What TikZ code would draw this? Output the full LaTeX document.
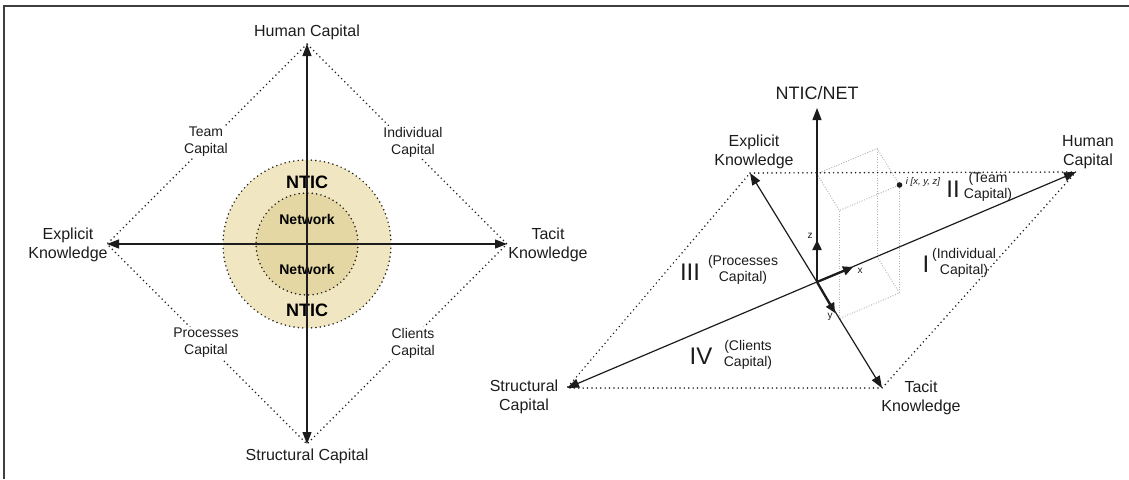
\documentclass[tikz,border=0pt]{standalone}
\usepackage{fontspec}
\setmainfont{Liberation Sans}
\usetikzlibrary{arrows.meta,positioning}

\definecolor{ink}{HTML}{1C1C1C}
\definecolor{nticfill}{HTML}{F0E7C2}
\definecolor{netfill}{HTML}{E4D7A4}

\tikzset{
  axis/.style={draw=ink, line width=1.2pt},
  thickax/.style={draw=ink, line width=2.3pt, >={Triangle[length=10pt,width=9pt]}},
  dotline/.style={draw=ink, line width=1.7pt, dash pattern=on 0pt off 4.4pt, line cap=round},
  boxline/.style={draw=gray!60, line width=0.9pt, dash pattern=on 1pt off 1.6pt},
  lab/.style={font=\fontsize{16}{19}\selectfont, text=ink, align=center, inner sep=0pt},
  caplab/.style={font=\fontsize{14}{17}\selectfont, text=ink, align=center, inner sep=1pt, fill=white},
  ntictxt/.style={font=\fontsize{18}{20}\selectfont\bfseries, text=black, inner sep=0pt},
  nettxt/.style={font=\fontsize{14}{16}\selectfont\bfseries, text=black, inner sep=0pt},
  roman/.style={font=\fontsize{24}{26}\selectfont, text=ink, inner sep=0pt},
  paren/.style={font=\fontsize{14}{16}\selectfont, text=ink, align=center, inner sep=0pt},
  small/.style={font=\fontsize{10}{11}\selectfont, text=ink, inner sep=0pt}
}

\begin{document}
\begin{tikzpicture}[x=1pt, y=-1pt, >={Triangle[length=12pt,width=9pt]}]
\useasboundingbox (0,0) rectangle (1129,479);
\draw[line width=1.4pt, ink!85] (4,479) -- (4,6) -- (1129,6);

% left: the square of capitals
\coordinate (c) at (307,244);
\coordinate (hc) at (307,44);
\coordinate (sc) at (307,444);
\coordinate (ek) at (107,244);
\coordinate (tk) at (507,244);

\node[circle, minimum size=168pt, fill=nticfill, dotline] (nticring) at (c) {};
\node[circle, minimum size=102pt, fill=netfill, dotline] (netring) at (c) {};
\node[ntictxt] (nticup) at (307,182) {NTIC};
\node[ntictxt] (nticdown) at (307,310) {NTIC};
\node[nettxt] (netup) at (307,219) {Network};
\node[nettxt] (netdown) at (307,269) {Network};

\draw[dotline] (hc) -- (ek) -- (sc) -- (tk) -- cycle;
\draw[axis, <->] (ek) -- (tk);
\draw[axis, <->] (hc) -- (sc);

\node[lab] (hclab) at (307,32) {Human Capital};
\node[lab] (sclab) at (307,456) {Structural Capital};
\node[lab] (eklab) at (68,245) {Explicit\\Knowledge};
\node[lab] (tklab) at (548,245) {Tacit\\Knowledge};
\node[caplab] (team) at (206,142) {Team\\Capital};
\node[caplab] (indiv) at (413,142) {Individual\\Capital};
\node[caplab] (proc) at (206,343) {Processes\\Capital};
\node[caplab] (client) at (413,343) {Clients\\Capital};

% right: the plane and the NTIC/NET axis
\coordinate (o) at (817,282);
\coordinate (hc2) at (1076,172);
\coordinate (sc2) at (567,388);
\coordinate (ek2) at (750,173);
\coordinate (tk2) at (882,388);
\coordinate (top2) at (817,108);

% box of the point i
\coordinate (bx) at (877,256.5);
\coordinate (by) at (839.5,318.5);
\coordinate (bxy) at (899.5,293);
\coordinate (bz) at (817,174);
\coordinate (bxz) at (877,148.5);
\coordinate (byz) at (839.5,210.5);
\coordinate (pt) at (899.5,185);
\draw[boxline] (bz) -- (bxz) -- (pt) -- (byz) -- cycle;
\draw[boxline] (bx) -- (bxz);
\draw[boxline] (by) -- (byz);
\draw[boxline] (bxy) -- (pt);
\draw[boxline] (bx) -- (bxy) -- (by);

\draw[dotline] (ek2) -- (hc2) -- (tk2) -- (sc2) -- cycle;
\draw[axis, <->] (sc2) -- (hc2);
\draw[axis, <->] (ek2) -- (tk2);
\draw[axis, ->] (o) -- (top2);

\coordinate (zt) at (817,240);
\coordinate (xt) at (853,267);
\coordinate (yt) at (835,313);
\draw[thickax, ->] (o) -- (zt);
\draw[thickax, ->] (o) -- (xt);
\draw[thickax, ->] (o) -- (yt);
\node[small] (zlab) at (810,236) {z};
\node[small] (xlab) at (860,271) {x};
\node[small] (ylab) at (830,317) {y};

\fill[ink] (pt) circle (2.8pt);
\node[font=\fontsize{9.5}{10}\selectfont\itshape, text=ink, inner sep=0pt] (ilab) at (923,182) {i [x, y, z]};

\node[lab, font=\fontsize{18}{20}\selectfont] (netlab) at (817,93) {NTIC/NET};
\node[lab] (eklab2) at (754,152) {Explicit\\Knowledge};
\node[lab] (hclab2) at (1088,152) {Human\\Capital};
\node[lab] (sclab2) at (524,397) {Structural\\Capital};
\node[lab] (tklab2) at (921,398) {Tacit\\Knowledge};

\node[roman] (q1) at (926,264) {I};
\node[paren] (q1t) at (964,263) {(Individual\\Capital)};
\node[roman] (q2) at (953,189) {II};
\node[paren] (q2t) at (988,187) {(Team\\Capital)};
\node[roman] (q3) at (690,272) {III};
\node[paren] (q3t) at (743,270) {(Processes\\Capital)};
\node[roman] (q4) at (701,356) {IV};
\node[paren] (q4t) at (748,355) {(Clients\\Capital)};
\end{tikzpicture}
\end{document}
